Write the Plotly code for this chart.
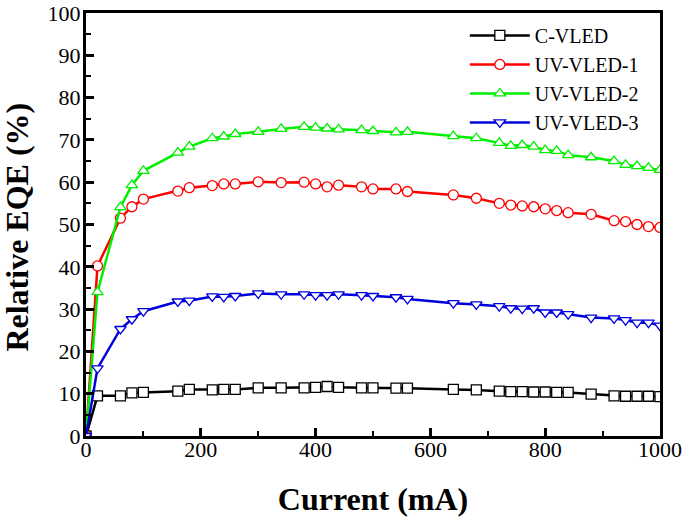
import plotly.graph_objects as go

current = [0, 20, 60, 80, 100, 160, 180, 220, 240, 260, 300, 340, 380, 400, 420, 440, 480, 500,
           540, 560, 640, 680, 720, 740, 760, 780, 800, 820, 840, 880, 920, 940, 960, 980, 1000]

c_vled = [0, 9.5, 9.5, 10.2, 10.3, 10.6, 11.0, 10.9, 11.0, 11.0, 11.4, 11.4, 11.4, 11.5, 11.7, 11.5, 11.4, 11.4,
          11.3, 11.3, 11.0, 10.9, 10.6, 10.5, 10.5, 10.4, 10.4, 10.3, 10.3, 9.9, 9.5, 9.4, 9.4, 9.4, 9.3]
uv_vled_1 = [0, 40.2, 51.5, 54.2, 56.0, 57.9, 58.7, 59.2, 59.6, 59.6, 60.1, 59.9, 60.0, 59.6, 58.9, 59.3, 58.9, 58.4,
             58.4, 57.8, 57.0, 56.2, 55.0, 54.6, 54.4, 54.2, 53.7, 53.3, 52.8, 52.4, 50.9, 50.7, 50.0, 49.5, 49.3]
uv_vled_2 = [0, 34.0, 54.1, 59.3, 62.7, 67.0, 68.4, 70.4, 70.8, 71.4, 71.9, 72.6, 73.1, 72.9, 72.7, 72.5, 72.3, 72.1,
             71.8, 71.9, 70.9, 70.4, 69.3, 68.6, 68.8, 68.4, 67.6, 67.4, 66.4, 65.9, 65.0, 64.1, 63.8, 63.4, 62.9]
uv_vled_3 = [0, 16.0, 25.3, 27.6, 29.5, 31.8, 32.0, 33.0, 32.9, 33.1, 33.7, 33.5, 33.5, 33.3, 33.3, 33.5, 33.3, 33.1,
             32.8, 32.4, 31.4, 31.1, 30.7, 30.2, 30.1, 30.2, 29.2, 29.2, 28.8, 28.0, 27.8, 27.4, 26.8, 26.8, 26.1]

series = [
    ("C-VLED", c_vled, "#000000", "square"),
    ("UV-VLED-1", uv_vled_1, "#ff0000", "circle"),
    ("UV-VLED-2", uv_vled_2, "#00ee00", "triangle-up"),
    ("UV-VLED-3", uv_vled_3, "#0000dd", "triangle-down"),
]

fig = go.Figure()
for name, ys, col, sym in series:
    fig.add_trace(go.Scatter(
        x=current, y=ys, name=name, mode="lines+markers",
        line=dict(color=col, width=2.5),
        marker=dict(symbol=sym, size=10, color="white", line=dict(color=col, width=1.3)),
    ))

font_family = "Liberation Serif, Times New Roman, serif"
axis_common = dict(
    showline=True, linecolor="black", linewidth=3, mirror=True,
    ticks="inside", ticklen=8, tickwidth=2.5, tickcolor="black",
    showgrid=False, zeroline=False, automargin=False,
    tickfont=dict(family=font_family, size=22, color="black"),
)

fig.update_layout(
    width=685, height=518,
    margin=dict(l=86, r=25, t=13, b=82),
    paper_bgcolor="white", plot_bgcolor="white",
    font=dict(family=font_family, color="black"),
    xaxis=dict(range=[0, 1000], dtick=200, tick0=0, ticklabelstandoff=-8,
               minor=dict(dtick=100, ticks="inside", ticklen=5, tickwidth=2, tickcolor="black"),
               title=dict(text="<b>Current (mA)</b>", font=dict(family=font_family, size=32), standoff=27),
               **axis_common),
    yaxis=dict(range=[0, 100], dtick=10, tick0=0, ticklabelstandoff=-2,
               minor=dict(dtick=5, ticks="inside", ticklen=5, tickwidth=2, tickcolor="black"),
               **axis_common),
    legend=dict(x=0.66, y=0.993, xanchor="left", yanchor="top",
                bgcolor="rgba(0,0,0,0)", borderwidth=0,
                font=dict(family=font_family, size=20, color="black"),
                tracegroupgap=0, itemwidth=60),
    showlegend=True,
    annotations=[dict(text="<b>Relative EQE (%)</b>", textangle=-90,
                      xref="paper", yref="paper", x=-0.12, y=0.493,
                      xanchor="center", yanchor="middle", showarrow=False,
                      borderpad=0,
                      font=dict(family=font_family, size=32, color="black"))],
)

fig.write_html("out.html", config={"displayModeBar": False},
               post_script="document.body.style.margin='0px';")
